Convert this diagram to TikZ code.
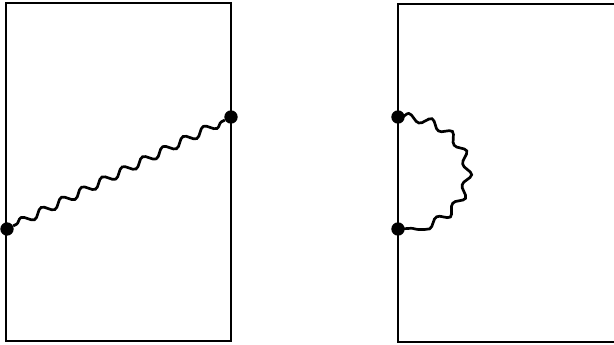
\documentclass[tikz,border=0pt]{standalone}
\usepackage{tikz}
\usetikzlibrary{decorations.pathmorphing}

\begin{document}
\begin{tikzpicture}[
    x=0.03cm, y=-0.03cm,
    frame/.style={line width=2.4pt},
    vertex/.style={circle, fill=black, minimum size=0.4cm, inner sep=0pt},
    photon/.style={line width=2.3pt, decorate,
                   decoration={snake, segment length=0.68cm, amplitude=0.12cm,
                               pre length=3pt, post length=3pt}},
]
    \useasboundingbox (0, 0) rectangle (614, 345);

    % Left panel
    \draw[frame] (6, 3) rectangle (231, 341);
    \node[vertex] (la) at (7, 229) {};
    \node[vertex] (lb) at (231, 117) {};
    \draw[photon] (la) -- (lb);

    % Right panel (open on the right)
    \draw[frame] (616, 4) -- (398, 4) -- (398, 342) -- (616, 342);
    \node[vertex] (ra) at (398, 117) {};
    \node[vertex] (rb) at (398, 229) {};
    \draw[photon] (ra.center) arc[start angle=-90, end angle=90, x radius=64, y radius=56];
\end{tikzpicture}
\end{document}
